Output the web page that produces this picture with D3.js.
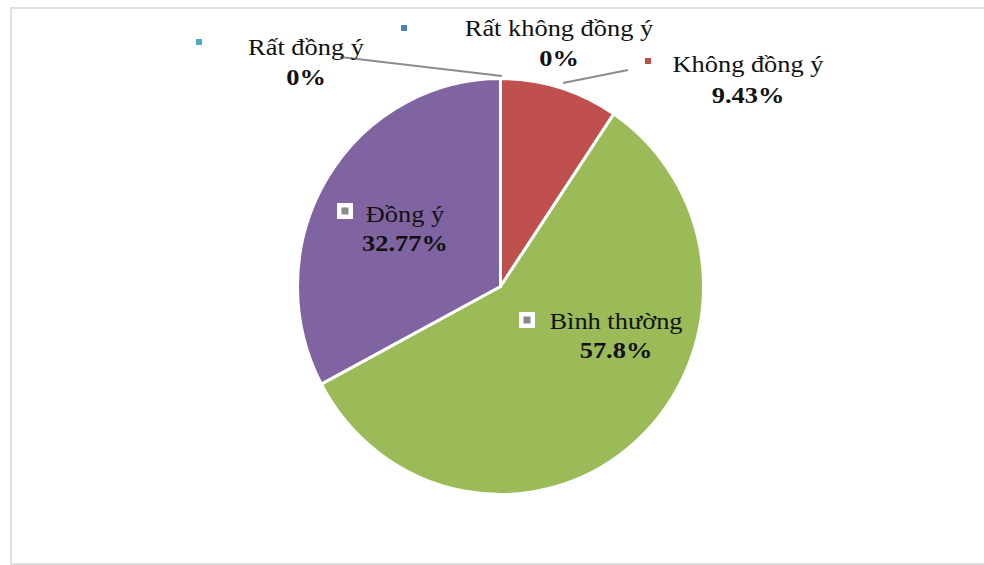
<!DOCTYPE html>
<html>
<head>
<meta charset="utf-8">
<script src="https://cdn.jsdelivr.net/npm/d3@7"></script>
<style>
  html, body { margin: 0; padding: 0; background: #fff; }
  svg { display: block; }
  text { font-family: "Liberation Serif", "Times New Roman", serif; fill: #111; }
</style>
</head>
<body>
<svg id="chart" width="984" height="565"></svg>
<script>
// Survey answers, clockwise from 12 o'clock
const categories = ["Rất không đồng ý", "Không đồng ý", "Bình thường", "Đồng ý", "Rất đồng ý"];
const values = [0, 9.43, 57.8, 32.77, 0];
const valueLabels = ["0%", "9.43%", "57.8%", "32.77%", "0%"];
const colors = ["#4F81BD", "#C0504D", "#9BBB59", "#8064A2", "#4BACC6"];

// Label placement (name centre x, name baseline y, value baseline y, key x, key y, key style)
const labelLayout = [
  { x: 559, y: 36, vy: 66, kx: 404, ky: 28, key: "dot" },
  { x: 748, y: 72, vy: 103, kx: 648, ky: 61, key: "dot" },
  { x: 616, y: 329, vy: 358, kx: 527, ky: 320, key: "box" },
  { x: 405, y: 222, vy: 251, kx: 345, ky: 211, key: "box" },
  { x: 306, y: 55, vy: 85, kx: 199, ky: 42, key: "dot" }
];
// Leader lines for the two zero-width slices
const leaders = [
  { i: 0, x1: 563, y1: 83, x2: 628, y2: 70 },
  { i: 4, x1: 340, y1: 57, x2: 502, y2: 76 }
];

const svg = d3.select("#chart");

// Chart area frame
svg.append("rect")
  .attr("x", 11).attr("y", 8)
  .attr("width", 990).attr("height", 556)
  .attr("fill", "none").attr("stroke", "#d6d6d6").attr("stroke-width", 1.5);

const cx = 500.5, cy = 286.5, rx = 203, ry = 208;

const pie = d3.pie().sort(null).value(d => d)(values);
const arc = d3.arc().innerRadius(0).outerRadius(rx);

const g = svg.append("g")
  .attr("transform", `translate(${cx},${cy}) scale(1,${ry / rx})`);

g.selectAll("path")
  .data(pie)
  .join("path")
  .attr("d", arc)
  .attr("fill", (d, i) => colors[i])
  .attr("stroke", "#fff")
  .attr("stroke-width", 3)
  .attr("stroke-linejoin", "round");

// Leader lines
svg.selectAll("line.leader")
  .data(leaders)
  .join("line")
  .attr("class", "leader")
  .attr("x1", d => d.x1).attr("y1", d => d.y1)
  .attr("x2", d => d.x2).attr("y2", d => d.y2)
  .attr("stroke", "#8c8c8c").attr("stroke-width", 2);

// Data labels with legend keys
const labels = svg.selectAll("g.label")
  .data(categories)
  .join("g")
  .attr("class", "label");

labels.each(function (name, i) {
  const L = labelLayout[i];
  const sel = d3.select(this);
  if (L.key === "dot") {
    sel.append("rect")
      .attr("x", L.kx - 3).attr("y", L.ky - 3)
      .attr("width", 6).attr("height", 6)
      .attr("fill", colors[i]);
  } else {
    sel.append("rect")
      .attr("x", L.kx - 8).attr("y", L.ky - 8)
      .attr("width", 16).attr("height", 16)
      .attr("fill", "#fff");
    sel.append("rect")
      .attr("x", L.kx - 3.5).attr("y", L.ky - 3.5)
      .attr("width", 7).attr("height", 7)
      .attr("fill", "#8a8a8a");
  }
  sel.append("text")
    .attr("transform", `translate(${L.x},${L.y}) scale(1.1,1)`)
    .attr("text-anchor", "middle")
    .attr("font-size", 24)
    .text(name);
  sel.append("text")
    .attr("transform", `translate(${L.x},${L.vy}) scale(1.1,1)`)
    .attr("text-anchor", "middle")
    .attr("font-size", 24)
    .attr("font-weight", "bold")
    .text(valueLabels[i]);
});
</script>
</body>
</html>
